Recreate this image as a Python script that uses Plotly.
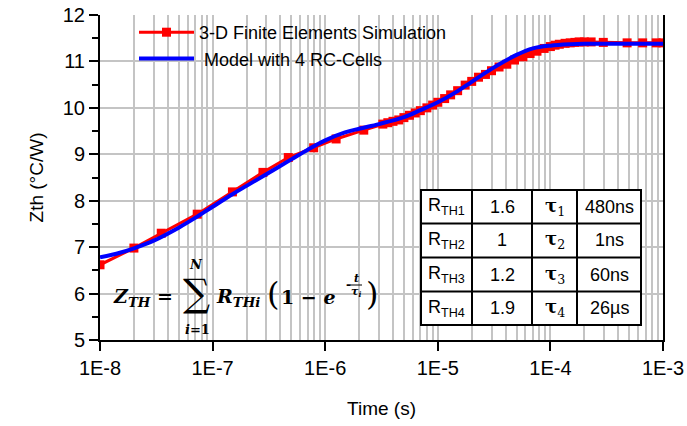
import plotly.graph_objects as go

# ---------------- data ----------------
sim_t = [1e-8, 2e-8, 3.5e-8, 7.3e-8, 1.5e-7, 2.8e-7, 4.7e-7, 7.9e-7, 1.25e-6, 2.2e-6, 3.25e-6,
         3.6e-6, 4e-6, 4.5e-6, 5e-6, 5.6e-6, 6.3e-6, 7e-6, 8e-6, 9e-6, 1e-5, 1.15e-5, 1.3e-5,
         1.5e-5, 1.75e-5, 2e-5, 2.3e-5, 2.65e-5, 3e-5, 3.5e-5, 4.1e-5, 4.8e-5, 5.7e-5, 6.6e-5,
         7.6e-5, 8.8e-5, 1e-4, 1.1e-4, 1.2e-4, 1.35e-4, 1.5e-4, 1.65e-4, 1.8e-4, 2e-4, 2.3e-4,
         2.95e-4, 4.8e-4, 6.6e-4, 8.7e-4, 1e-3]
sim_z = [6.62, 6.98, 7.30, 7.71, 8.19, 8.61, 8.93, 9.14, 9.33, 9.52, 9.65,
         9.68, 9.71, 9.74, 9.79, 9.84, 9.89, 9.94, 10.00, 10.06, 10.12, 10.20, 10.28,
         10.37, 10.49, 10.57, 10.66, 10.72, 10.80, 10.88, 10.94, 11.03, 11.10, 11.17,
         11.22, 11.28, 11.32, 11.35, 11.37, 11.39, 11.40, 11.41, 11.42, 11.42, 11.42,
         11.41, 11.40, 11.40, 11.40, 11.40]

model_t = [1e-8, 1.5e-8, 2e-8, 3e-8, 5e-8, 7e-8, 1e-7, 1.5e-7, 2e-7, 3e-7, 5e-7, 7e-7, 1e-6,
           1.5e-6, 2e-6, 3e-6, 5e-6, 7e-6, 1e-5, 1.5e-5, 2e-5, 3e-5, 5e-5, 7e-5, 1e-4,
           1.5e-4, 2e-4, 5e-4, 1e-3]
model_z = [6.78, 6.88, 6.975, 7.14, 7.42, 7.63, 7.87, 8.14, 8.32, 8.57, 8.89, 9.10, 9.30,
           9.47, 9.55, 9.65, 9.80, 9.95, 10.12, 10.36, 10.56, 10.84, 11.14, 11.28, 11.34,
           11.37, 11.38, 11.38, 11.38]

x_tickvals = [1e-8, 1e-7, 1e-6, 1e-5, 1e-4, 1e-3]
x_ticktext = ["1E-8", "1E-7", "1E-6", "1E-5", "1E-4", "1E-3"]
x_minor = [m * d for d in [1e-8, 1e-7, 1e-6, 1e-5, 1e-4] for m in range(2, 10)]
y_tickvals = [5, 6, 7, 8, 9, 10, 11, 12]

table_r = ["R<sub>TH1</sub>", "R<sub>TH2</sub>", "R<sub>TH3</sub>", "R<sub>TH4</sub>"]
table_rv = ["1.6", "1", "1.2", "1.9"]
table_tau = ["<b>τ</b><sub>1</sub>", "<b>τ</b><sub>2</sub>", "<b>τ</b><sub>3</sub>", "<b>τ</b><sub>4</sub>"]
table_tv = ["480ns", "1ns", "60ns", "26µs"]

# ---------------- figure ----------------
W, H = 687, 426
L, R, T = 100, 24, 15
PW, PH = 563, 325
B = H - T - PH

def px(x):  # page pixel -> paper
    return (x - L) / PW

def py(y):
    return (T + PH - y) / PH

FONT = "Liberation Sans, Arial, sans-serif"
SERIF = "DejaVu Serif, Liberation Serif, serif"

fig = go.Figure()
fig.add_trace(go.Scatter(
    x=sim_t, y=sim_z, mode="lines+markers", name="3-D Finite Elements Simulation",
    line=dict(color="#ff0000", width=3),
    marker=dict(symbol="square", size=9, color="#ff0000")))
fig.add_trace(go.Scatter(
    x=model_t, y=model_z, mode="lines", name=" Model with 4 RC-Cells",
    line=dict(color="#0000ff", width=4, shape="spline")))

fig.update_layout(
    width=W, height=H,
    margin=dict(l=L, r=R, t=T, b=B),
    paper_bgcolor="white", plot_bgcolor="white",
    font=dict(family=FONT, color="black"),
    legend=dict(x=px(134), y=py(14), xanchor="left", yanchor="top",
                bgcolor="rgba(0,0,0,0)", font=dict(size=18, family=FONT),
                itemwidth=55, tracegroupgap=0),
    xaxis=dict(type="log", range=[-8, -3], tickvals=x_tickvals, ticktext=x_ticktext,
               ticks="outside", ticklen=9, tickwidth=2, tickcolor="black",
               showline=True, linewidth=2, linecolor="black",
               showgrid=True, gridcolor="#c4c4c4", gridwidth=2,
               tickfont=dict(size=20, family=FONT), automargin=False,
               minor=dict(tickvals=x_minor, showgrid=True, gridcolor="#c4c4c4",
                          gridwidth=2, ticks=""),
               title=dict(text="Time (s)", font=dict(size=19, family=FONT), standoff=24),
               zeroline=False),
    yaxis=dict(range=[5, 12], tickvals=y_tickvals,
               ticks="outside", ticklen=9, tickwidth=2, tickcolor="black",
               showline=True, linewidth=2, linecolor="black", mirror=True,
               showgrid=True, gridcolor="#c4c4c4", gridwidth=2,
               tickfont=dict(size=20, family=FONT), automargin=False,
               minor=dict(dtick=0.5, ticks="outside", ticklen=6, tickwidth=2,
                          tickcolor="black", showgrid=False),
               title=dict(text="Zth (°C/W)", font=dict(size=19, family=FONT), standoff=14),
               zeroline=False),
)

# ---------------- table ----------------
tx = [421, 472, 532, 577, 641]
ty = [190, 223.5, 257.5, 291.5, 325]
shapes = [dict(type="rect", xref="paper", yref="paper", x0=px(tx[0]), x1=px(tx[-1]),
               y0=py(ty[-1]), y1=py(ty[0]), fillcolor="white",
               line=dict(color="black", width=2), layer="above")]
for xv in tx[1:-1]:
    shapes.append(dict(type="line", xref="paper", yref="paper", x0=px(xv), x1=px(xv),
                       y0=py(ty[-1]), y1=py(ty[0]), line=dict(color="black", width=2)))
for yv in ty[1:-1]:
    shapes.append(dict(type="line", xref="paper", yref="paper", x0=px(tx[0]), x1=px(tx[-1]),
                       y0=py(yv), y1=py(yv), line=dict(color="black", width=2)))

ann = []
for i in range(4):
    yc = (ty[i] + ty[i + 1]) / 2
    cols = [(table_r[i], 18, FONT), (table_rv[i], 18, FONT),
            (table_tau[i], 18, SERIF), (table_tv[i], 18, FONT)]
    for j, (txt, sz, fam) in enumerate(cols):
        ann.append(dict(xref="paper", yref="paper", x=px((tx[j] + tx[j + 1]) / 2), y=py(yc),
                        text=txt, showarrow=False, xanchor="center", yanchor="middle",
                        font=dict(size=sz, family=fam, color="black")))

# ---------------- formula ----------------
def fa(x, y, text, size, anchor="left"):
    ann.append(dict(xref="paper", yref="paper", x=px(x), y=py(y), text=text,
                    showarrow=False, xanchor=anchor, yanchor="middle",
                    font=dict(size=size, family=SERIF, color="black")))

fa(111, 297, "<b><i>Z<sub>TH</sub></i> =</b>", 19)
fa(196, 293, "∑", 38, "center")
fa(196, 264, "<b><i>N</i></b>", 13, "center")
fa(197, 329, "<b><i>i</i>=1</b>", 13, "center")
fa(214, 297, "<b><i>R<sub>THi</sub></i></b>", 19)
fa(265, 294, "(", 32)
fa(279, 297, "<b>1 − <i>e</i></b>", 19)
fa(344, 285, "<b>-</b>", 12)
fa(356, 278, "<b><i>t</i></b>", 11, "center")
fa(356, 292, "<b><i>τ<sub>i</sub></i></b>", 11, "center")
shapes.append(dict(type="line", xref="paper", yref="paper", x0=px(350), x1=px(362),
                   y0=py(285), y1=py(285), line=dict(color="black", width=1)))
fa(364, 294, ")", 32)

fig.update_layout(shapes=shapes, annotations=ann)
# remove the default page margin so the figure sits at the window's top-left corner
fig.write_html("out.html", config={"displayModeBar": False},
               post_script="document.body.style.margin='0px';")
